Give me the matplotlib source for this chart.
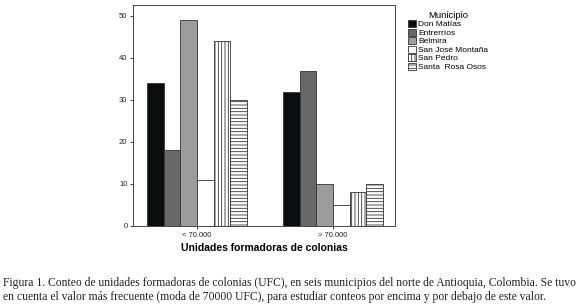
import numpy as np
import matplotlib.pyplot as plt

groups = ["< 70.000", "> 70.000"]
municipios = ["Don Matías", "Entrerríos", "Belmira", "San José Montaña",
              "San Pedro", "Santa  Rosa Osos"]
conteos = {
    "Don Matías": [34, 32],
    "Entrerríos": [18, 37],
    "Belmira": [49, 10],
    "San José Montaña": [11, 5],
    "San Pedro": [44, 8],
    "Santa  Rosa Osos": [30, 10],
}
yticks = [0, 10, 20, 30, 40, 50]

fills = ["#0b0d0e", "#686868", "#9c9c9c", "white", "white", "white"]
hatches = [None, None, None, None, "|||||", "-----"]

plt.rcParams["hatch.linewidth"] = 0.6
plt.rcParams["font.family"] = "Liberation Sans"

fig = plt.figure(figsize=(5.8, 3.06), dpi=100)
ax = fig.add_axes([133 / 580, 1 - 226 / 306, 262 / 580, 221 / 306])

x = np.arange(len(groups))
w = 0.1225
for i, m in enumerate(municipios):
    ax.bar(x + (i - 2.5) * w, conteos[m], width=w, color=fills[i],
           edgecolor="#333333", linewidth=0.6, hatch=hatches[i], label=m)

ax.set_xlim(-0.47, 1.456)
ax.set_ylim(0, 52.6)
ax.set_yticks(yticks)
ax.set_xticks(x)
ax.set_xticklabels(groups)
ax.tick_params(labelsize=5.5, length=2, width=0.6, colors="#222222", pad=2)
for s in ax.spines.values():
    s.set_linewidth(0.7)
    s.set_color("#444444")
ax.set_xlabel("Unidades formadoras de colonias", fontsize=7.5,
              fontweight="bold", labelpad=3)

leg = ax.legend(loc="upper left", frameon=False, fontsize=6,
                title="Municipio", title_fontsize=6.8, handlelength=0.9,
                handleheight=0.9, handletextpad=0.25, labelspacing=0.02,
                borderaxespad=0)
leg.set_bbox_to_anchor((405 / 580, 0.975), transform=fig.transFigure)

fig.text(0.006, 1 - 283 / 306,
         "Figura 1. Conteo de unidades formadoras de colonias (UFC), en seis municipios del norte de Antioquia, Colombia. Se tuvo",
         fontsize=8.4, family="Liberation Serif", va="center", color="#222222")
fig.text(0.006, 1 - 297 / 306,
         "en cuenta el valor más frecuente (moda de 70000 UFC), para estudiar conteos por encima y por debajo de este valor.",
         fontsize=8.4, family="Liberation Serif", va="center", color="#222222")

fig.savefig("out.png", dpi=100)
